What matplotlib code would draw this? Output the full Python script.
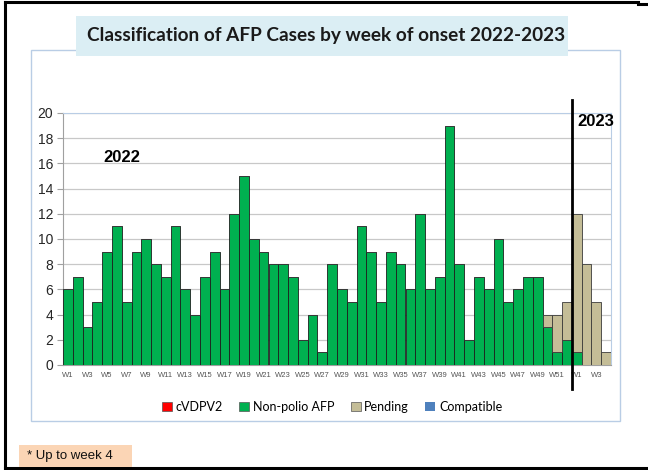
import matplotlib.pyplot as plt
from matplotlib.patches import Rectangle, Patch
from matplotlib.lines import Line2D

# weeks: 2022 W1-W52, then 2023 W1-W4
weeks = ["W%d" % w for w in range(1, 53)] + ["W%d" % w for w in range(1, 5)]

non_polio = [6, 7, 3, 5, 9, 11, 5, 9, 10, 8,
             7, 11, 6, 4, 7, 9, 6, 12, 15, 10,
             9, 8, 8, 7, 2, 4, 1, 8, 6, 5,
             11, 9, 5, 9, 8, 6, 12, 6, 7, 19,
             8, 2, 7, 6, 10, 5, 6, 7, 7, 3,
             1, 2,
             1, 0, 0, 0]
pending = [0] * 49 + [1, 3, 3, 11, 8, 5, 1]
cvdpv2 = [0] * 56
compatible = [0] * 56

green = "#00b050"
tan = "#c4bd97"
red = "#ff0000"
blue = "#4f81bd"
frame_col = "#b9cde5"

fig = plt.figure(figsize=(6.48, 4.70), dpi=100)

# outer black border (left, top, bottom)
border = dict(color="black", lw=2.2, transform=fig.transFigure, zorder=-5)
fig.add_artist(Line2D([5 / 648, 5 / 648], [1 - 2 / 470, 1 - 468 / 470], **border))
fig.add_artist(Line2D([5 / 648, 638 / 648], [1 - 2 / 470, 1 - 2 / 470], **border))
fig.add_artist(Line2D([638 / 648, 1.0], [1 - 4 / 470, 1 - 4 / 470], **border))
fig.add_artist(Line2D([5 / 648, 1.0], [1 - 468 / 470, 1 - 468 / 470], **border))

# chart frame
fig.add_artist(Rectangle((31 / 648, 1 - 421 / 470), 589 / 648, 371 / 470, transform=fig.transFigure,
                         facecolor="white", edgecolor=frame_col, lw=1.0, zorder=-4))

# title box
fig.add_artist(Rectangle((76 / 648, 1 - 56 / 470), 492 / 648, 40 / 470, transform=fig.transFigure,
                         facecolor="#dbeef4", edgecolor="none", zorder=-3))
fig.text(326 / 648, 1 - 36 / 470, "Classification of AFP Cases by week of onset 2022-2023",
         ha="center", va="center", fontsize=13.7, fontweight="bold", family="Lato", color="#1a1a1a")

ax = fig.add_axes([63 / 648, 1 - 365 / 470, 548 / 648, 252 / 470])
ax.set_facecolor("none")
ax.set_zorder(2)

x = list(range(len(weeks)))
ax.bar(x, cvdpv2, width=1.0, color=red, linewidth=0, zorder=3)
ax.bar(x, non_polio, width=1.0, bottom=cvdpv2, color=green, edgecolor="#1e1e1e", linewidth=0.6, zorder=3)
base = [a + b for a, b in zip(cvdpv2, non_polio)]
ax.bar(x, pending, width=1.0, bottom=base, color=tan, edgecolor="#3a3a3a", linewidth=0.6, zorder=3)
base = [a + b for a, b in zip(base, pending)]
ax.bar(x, compatible, width=1.0, bottom=base, color=blue, linewidth=0, zorder=3)

ax.set_xlim(-0.5, len(weeks) - 0.5)
ax.set_ylim(0, 20)
ax.set_yticks(range(0, 21, 2))
ax.yaxis.grid(True, color="#c8c8c8", lw=0.9, zorder=0)
ax.set_axisbelow(True)

ax.set_xticks(x[::2])
ax.set_xticklabels(weeks[::2], fontsize=5.5, color="#555555", family="Liberation Sans")
ax.tick_params(axis="x", length=0, pad=5)
ax.tick_params(axis="y", length=4, color="#a0a0a0", labelsize=10, labelcolor="#262626", pad=3)
for lab in ax.get_yticklabels():
    lab.set_family("Liberation Sans")

ax.spines["left"].set_color("#a0a0a0")
ax.spines["bottom"].set_color("#a0a0a0")
ax.spines["top"].set_color(frame_col)
ax.spines["right"].set_color(frame_col)

# year separator
ax.plot([51.5, 51.5], [21, -1.9], color="black", lw=2, clip_on=False, zorder=5)
ax.text(52.1, 19.9, "2023", fontsize=12, fontweight="bold", family="Liberation Sans", va="top", ha="left")
ax.text(5.5, 16.5, "2022", fontsize=12, fontweight="bold", family="Liberation Sans", va="center", ha="center")

handles = [Patch(facecolor=red, edgecolor="#555555", lw=0.5, label="cVDPV2"),
           Patch(facecolor=green, edgecolor="#555555", lw=0.5, label="Non-polio AFP"),
           Patch(facecolor=tan, edgecolor="#555555", lw=0.5, label="Pending"),
           Patch(facecolor=blue, edgecolor="none", label="Compatible")]
fig.legend(handles=handles, loc="center", bbox_to_anchor=(332 / 648, 1 - 407 / 470), ncol=4,
           frameon=False, prop={"family": "Lato", "size": 9}, handlelength=0.8, handleheight=0.8,
           handletextpad=0.3, columnspacing=1.3)

# footnote
fig.add_artist(Rectangle((19 / 648, 1 - 467 / 470), 113 / 648, 22 / 470, transform=fig.transFigure,
                         facecolor="#fbd5b5", edgecolor="none", zorder=-3))
fig.text(27 / 648, 1 - 456 / 470, "* Up to week 4", ha="left", va="center", fontsize=9.5,
         family="Liberation Sans", color="#111111")

fig.savefig("out.png", dpi=100)
